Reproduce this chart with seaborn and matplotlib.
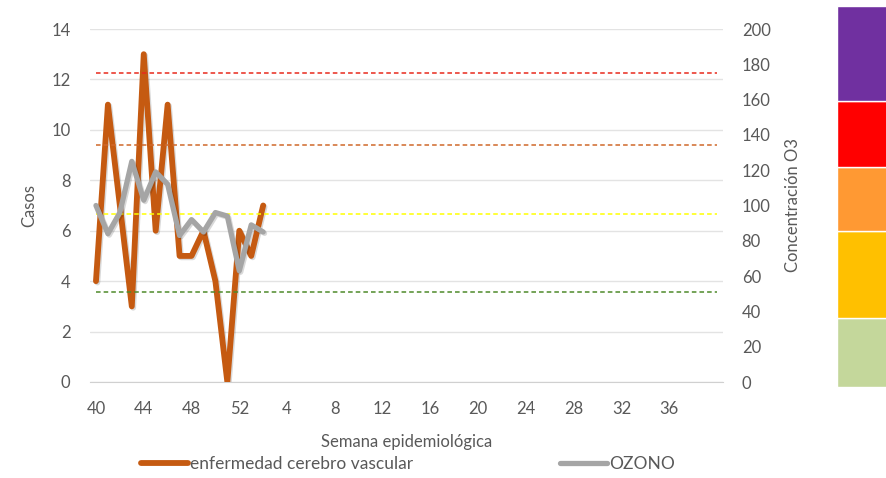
import numpy as np
import pandas as pd
import matplotlib.pyplot as plt
import matplotlib.patheffects as pe
import seaborn as sns
from matplotlib.lines import Line2D

sns.set_style('white')
plt.rcParams['font.family'] = ['Lato', 'DejaVu Sans']

# Semanas epidemiologicas (40-52 y 1-40)
weeks = [40, 41, 42, 43, 44, 45, 46, 47, 48, 49, 50, 51, 52,
         1, 2, 3, 4, 5, 6, 7, 8, 9, 10, 11, 12, 13, 14, 15, 16, 17, 18, 19, 20,
         21, 22, 23, 24, 25, 26, 27, 28, 29, 30, 31, 32, 33, 34, 35, 36, 37, 38, 39, 40]
casos = [4, 11, 7, 3, 13, 6, 11, 5, 5, 6, 4, 0, 6, 5, 7]
ozono = [100, 84, 96, 125, 103, 119, 112, 83, 92, 85, 96, 94, 63, 89, 85]
umbrales = [51, 95, 134, 175]
umbral_colors = ['#4E8A2A', '#FFFF00', '#D0682A', '#E8291C']
tick_labels = [40, 44, 48, 52, 4, 8, 12, 16, 20, 24, 28, 32, 36]

# bandas de la escala de color (abajo -> arriba)
band_sizes = [69, 87, 64, 66, 95]
band_colors = ['#C4D79B', '#FFC000', '#FF9933', '#FF0000', '#7030A0']

text_c = '#595959'
fs = 12

idx = np.arange(len(weeks))
df = pd.DataFrame({'idx': idx[:len(casos)], 'casos': casos, 'ozono': ozono})

fig = plt.figure(figsize=(8.87, 4.78), dpi=100)
ax = fig.add_axes([90/887, 1-382/478, (723-90)/887, (382-29)/478])
ax2 = ax.twinx()

for v, c in zip(umbrales, umbral_colors):
    ax2.plot(idx, [v]*len(idx), color=c, lw=1.1, ls=(0, (3, 2)))

shadow = [pe.SimpleLineShadow(offset=(1, -1), alpha=0.15), pe.Normal()]
sns.lineplot(data=df, x='idx', y='casos', ax=ax, color='#C55A11', lw=4.2,
             solid_capstyle='round', zorder=3, path_effects=shadow)
sns.lineplot(data=df, x='idx', y='ozono', ax=ax2, color='#A5A5A5', lw=3.8,
             solid_capstyle='round', zorder=4, path_effects=shadow)

ax.set_xlim(-0.5, len(weeks) - 0.5)
ax.set_ylim(0, 14)
ax.set_yticks(range(0, 15, 2))
ax2.set_ylim(0, 200)
ax2.set_yticks(range(0, 201, 20))
ax.set_xticks(idx[0:49:4])
ax.set_xticklabels(tick_labels)

ax.grid(axis='y', color='#E3E3E3', lw=1)
ax.set_axisbelow(True)
for a in (ax, ax2):
    for s in a.spines.values():
        s.set_visible(False)
    a.tick_params(length=0, labelsize=fs, colors=text_c)
ax.spines['bottom'].set_visible(True)
ax.spines['bottom'].set_color('#D0D0D0')
ax.tick_params(axis='y', pad=14)
ax.tick_params(axis='x', pad=14)
ax2.tick_params(axis='y', pad=13.5)

ax.set_xlabel('Semana epidemiológica', fontsize=fs, color=text_c, labelpad=12)
ax.set_ylabel('Casos', fontsize=fs, color=text_c, labelpad=10)
ax2.set_ylabel('Concentración O3', fontsize=fs, color=text_c, labelpad=10)

handles = [Line2D([], [], color='#C55A11', lw=4.2, solid_capstyle='round'),
           Line2D([], [], color='#A5A5A5', lw=3.8, solid_capstyle='round')]
fig.legend(handles, ['enfermedad cerebro vascular', 'OZONO'], loc='center',
           bbox_to_anchor=(408/887, 1-464/478), ncol=2, frameon=False,
           fontsize=12.5, labelcolor=text_c, handlelength=2.7, handletextpad=0.1,
           columnspacing=8.5)

# escala de color a la derecha
axc = fig.add_axes([837/887, 1-387/478, 50/887, (387-6)/478])
bottom = 0
for h, c in zip(band_sizes, band_colors):
    axc.bar(0, h, bottom=bottom, width=1, color=c)
    bottom += h
axc.set_xlim(-0.5, 0.5)
axc.set_ylim(0, bottom)
axc.axis('off')

fig.savefig('out.png', dpi=100)
